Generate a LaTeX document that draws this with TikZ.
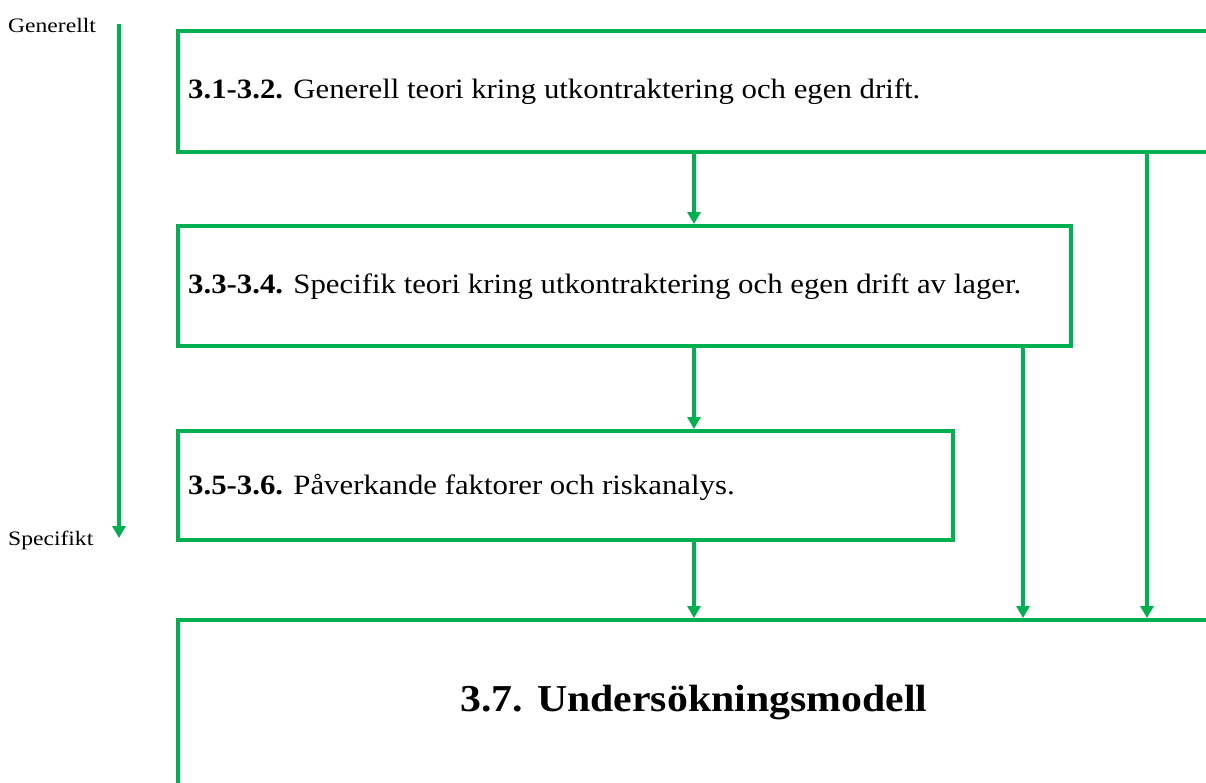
\documentclass[tikz,border=0pt]{standalone}
\usepackage{fontspec}
\setmainfont{Liberation Serif}
\newfontfamily\widefont[FakeStretch=1.1]{Liberation Serif}
\newfontfamily\sidefont[FakeStretch=1.15]{Liberation Serif}
\usetikzlibrary{arrows.meta}
\definecolor{flowgreen}{RGB}{0,176,80}
\tikzset{
  frame/.style={draw=flowgreen, line width=3.5pt, anchor=north west, inner sep=0pt},
  flow/.style={draw=flowgreen, line width=3.5pt, -{Triangle[width=13pt,length=12pt]}},
  sidelabel/.style={font=\sidefont\fontsize{20.5}{24}\selectfont, anchor=west, inner sep=0pt},
  boxtext/.style={font=\widefont\fontsize{28}{32}\selectfont, anchor=west, inner sep=0pt}
}
\begin{document}
\begin{tikzpicture}[x=1pt,y=-1pt]
\useasboundingbox (0,0) rectangle (1206,782);
\clip (0,0) rectangle (1206,782);
% boxes of the outline
\node[frame, minimum width=1100pt, minimum height=121pt] (b1) at (176,29) {};
\node[frame, minimum width=893pt, minimum height=120pt] (b2) at (176,224) {};
\node[frame, minimum width=775pt, minimum height=109pt] (b3) at (176,429) {};
\node[frame, minimum width=1100pt, minimum height=250pt] (b4) at (176,618) {};
% texts
\node[boxtext] (t1) at (188,92) {\textbf{3.1-3.2.} Generell teori kring utkontraktering och egen drift.};
\node[boxtext] (t2) at (188,287) {\textbf{3.3-3.4.} Specifik teori kring utkontraktering och egen drift av lager.};
\node[boxtext] (t3) at (188,487) {\textbf{3.5-3.6.} Påverkande faktorer och riskanalys.};
\node[font=\widefont\bfseries\fontsize{38}{44}\selectfont, inner sep=0pt] (t4) at (694,702) {3.7. Undersökningsmodell};
% general-to-specific axis
\node[sidelabel] (gen) at (8,25) {Generellt};
\node[sidelabel] (spec) at (8,540) {Specifikt};
\coordinate (axtop) at (119,24);
\coordinate (axbot) at (119,538);
\draw[flow] (axtop) -- (axbot);
% connectors
\coordinate (c1) at (694,0);
\coordinate (c2) at (1023,0);
\coordinate (c3) at (1147,0);
\draw[flow] (b1.south -| c1) -- (b2.north -| c1);
\draw[flow] (b2.south -| c1) -- (b3.north -| c1);
\draw[flow] (b3.south -| c1) -- (b4.north -| c1);
\draw[flow] (b2.south -| c2) -- (b4.north -| c2);
\draw[flow] (b1.south -| c3) -- (b4.north -| c3);
\end{tikzpicture}
\end{document}
